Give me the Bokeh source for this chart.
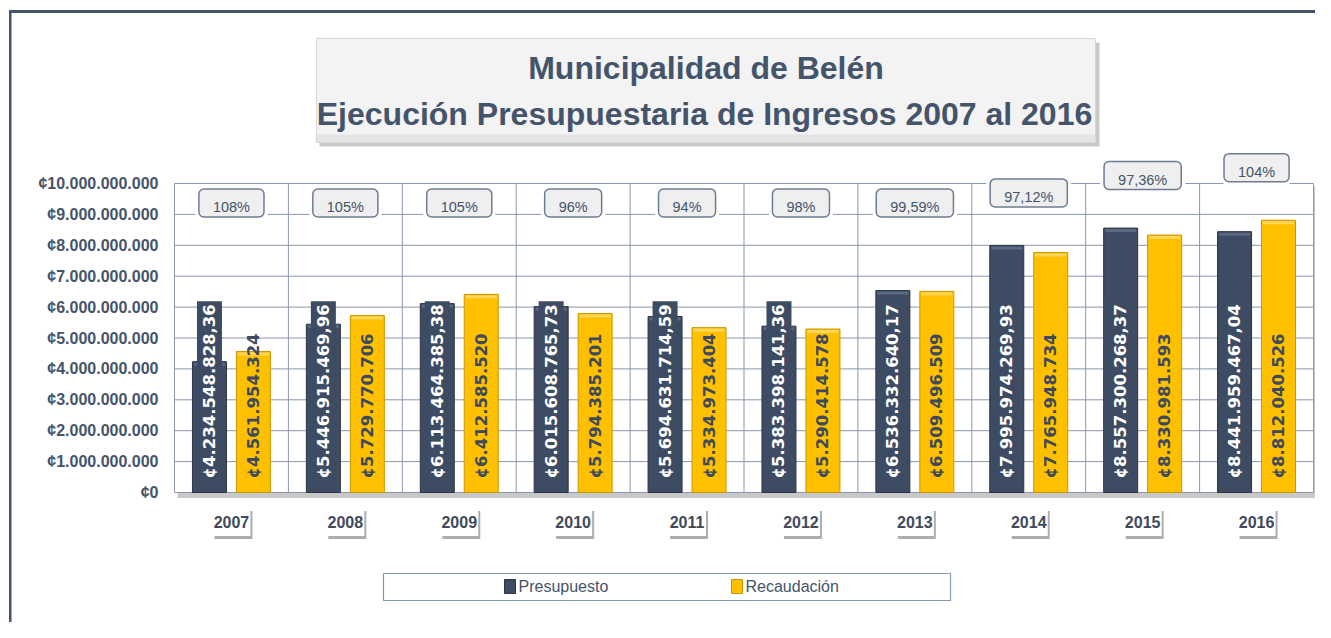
import math
from bokeh.plotting import figure
from bokeh.models import Range1d, FixedTicker, InlineStyleSheet
from bokeh.core.properties import value
from bokeh.embed import file_html
from bokeh.resources import INLINE

# ---------------- data ----------------
years = ["2007", "2008", "2009", "2010", "2011", "2012", "2013", "2014", "2015", "2016"]
presupuesto = [4234548828.36, 5446915469.96, 6113464385.38, 6015608765.73, 5694631714.59,
               5383398141.36, 6536332640.17, 7995974269.93, 8557300268.37, 8441959467.04]
recaudacion = [4561954324, 5729770706, 6412585520, 5794385201, 5334973404,
               5290414578, 6509496509, 7765948734, 8330981593, 8812040526]
porcentajes = ["108%", "105%", "105%", "96%", "94%", "98%", "99,59%", "97,12%", "97,36%", "104%"]
y_ticks = [0, 1000000000, 2000000000, 3000000000, 4000000000, 5000000000,
           6000000000, 7000000000, 8000000000, 9000000000, 10000000000]
y_tick_labels = ["¢0", "¢1.000.000.000", "¢2.000.000.000", "¢3.000.000.000", "¢4.000.000.000",
                 "¢5.000.000.000", "¢6.000.000.000", "¢7.000.000.000", "¢8.000.000.000",
                 "¢9.000.000.000", "¢10.000.000.000"]
series_names = ["Presupuesto", "Recaudación"]
title_lines = ["Municipalidad de Belén", "Ejecución Presupuestaria de Ingresos 2007 al 2016"]

# ---------------- style ----------------
DARK = "#3E4C63"
DARK_EDGE = "#2B3547"
DARK_TOP = "#5A6980"
GOLD = "#FFC000"
GOLD_EDGE = "#C99700"
GOLD_TOP = "#FFD659"
SLATE = "#44546A"
GRID = "#8A97AC"
SANS = "Liberation Sans"


def money(v, dec):
    s = f"{v:,.{dec}f}"
    s = s.replace(",", "X").replace(".", ",").replace("X", ".")
    return "¢" + s


# layout helpers (canvas pixels -> data space)
W, H = 1315, 622
X0_PX, CAT_PX = 174.0, 113.9
Y0_PX, BIL_PX = 492.0, 30.9
FRAME_L, FRAME_R, FRAME_T, FRAME_B = 168, 1315, 28, 612


def X(px):
    return (px - X0_PX) / CAT_PX


def Y(py):
    return (Y0_PX - py) / BIL_PX * 1e9


def DX(px):
    return px / CAT_PX


def DY(px):
    return px / BIL_PX * 1e9


n = len(years)
centers = [i + 0.5 for i in range(n)]
off = 0.193
bw = 0.2985
x_p = [c - off for c in centers]
x_r = [c + off for c in centers]

p = figure(width=W, height=H,
           x_range=Range1d(X(FRAME_L), X(FRAME_R)),
           y_range=Range1d(Y(FRAME_B), Y(FRAME_T)),
           output_backend="svg", toolbar_location=None, x_axis_location=None,
           min_border_left=FRAME_L, min_border_right=W - FRAME_R,
           min_border_top=FRAME_T, min_border_bottom=H - FRAME_B)
p.outline_line_color = None
p.grid.visible = False
p.background_fill_color = "white"
p.border_fill_color = None

# outer frame lines (painted behind the transparent border area)
p.stylesheets = [InlineStyleSheet(css=(
    ":host { background: "
    "linear-gradient(#44546A, #44546A) 9px 10px / 100% 3px no-repeat, "
    "linear-gradient(#44546A, #44546A) 9px 10px / 2.5px 100% no-repeat, white; }"))]

ax = p.yaxis[0]
ax.ticker = FixedTicker(ticks=y_ticks)
ax.major_label_overrides = dict(zip(y_ticks, y_tick_labels))
ax.axis_line_color = None
ax.major_tick_line_color = None
ax.minor_tick_line_color = None
ax.major_tick_in = 0
ax.major_tick_out = 0
ax.major_label_standoff = 10
ax.major_label_text_font = SANS
ax.major_label_text_font_style = "bold"
ax.major_label_text_font_size = "16px"
ax.major_label_text_color = SLATE

# title box
p.quad(left=[X(319)], right=[X(1099)], top=[Y(42)], bottom=[Y(146)], fill_color="#BDBDBD",
       fill_alpha=0.8, line_color=None)
p.quad(left=[X(316)], right=[X(1095)], top=[Y(38)], bottom=[Y(142)], fill_color="#F3F3F3",
       line_color="#D6D6D6")
p.quad(left=[X(316.5)], right=[X(1094.5)], top=[Y(134)], bottom=[Y(141.5)], fill_color="#E4E4E4",
       line_color=None)
p.text(x=[X(705.5), X(704)], y=[Y(67), Y(113)], text=title_lines,
       text_font=value(SANS), text_font_style="bold", text_font_size="32px",
       text_color=SLATE, text_align="center", text_baseline="middle")

# plot-area shadow
p.quad(left=[X(177)], right=[X(1320)], top=[Y(492.5)], bottom=[Y(497.5)], fill_color="#C8C8C8",
       line_color=None)
p.quad(left=[X(1313.5)], right=[X(1320)], top=[Y(186)], bottom=[Y(497.5)], fill_color="#C8C8C8",
       line_color=None)

# grid
p.segment(x0=[0] * len(y_ticks), x1=[n] * len(y_ticks), y0=y_ticks, y1=y_ticks,
          line_color=GRID, line_width=1)
p.segment(x0=list(range(n + 1)), x1=list(range(n + 1)), y0=[0] * (n + 1),
          y1=[y_ticks[-1]] * (n + 1), line_color=GRID, line_width=1)

# bars
p.vbar(x=x_p, top=presupuesto, width=bw, bottom=0, fill_color=DARK, line_color=DARK_EDGE,
       line_width=1)
p.vbar(x=x_r, top=recaudacion, width=bw, bottom=0, fill_color=GOLD, line_color=GOLD_EDGE,
       line_width=1)
# bevel highlight on bar tops
p.vbar(x=x_p, top=[v - DY(1) for v in presupuesto], bottom=[v - DY(4) for v in presupuesto],
       width=bw - DX(3), fill_color=DARK_TOP, line_color=None)
p.vbar(x=x_r, top=[v - DY(1) for v in recaudacion], bottom=[v - DY(4) for v in recaudacion],
       width=bw - DX(3), fill_color=GOLD_TOP, line_color=None)

# bar labels (inside base)
p.text(x=x_p, y=[DY(1)] * n, text=[money(v, 2) for v in presupuesto], angle=math.pi / 2,
       text_align="left", text_baseline="middle", text_color="white",
       text_font=value("DejaVu Sans"), text_font_style="bold", text_font_size="16.5px",
       background_fill_color=DARK, padding=dict(left=13, right=3, top=3, bottom=3))
p.text(x=x_r, y=[DY(14)] * n, text=[money(v, 0) for v in recaudacion], angle=math.pi / 2,
       text_align="left", text_baseline="middle", text_color="#3D4A5E",
       text_font=value("DejaVu Sans"), text_font_style="bold", text_font_size="16.5px")

# percentage labels
pct_y = [max(9.37e9, max(a, b) + 1.7e9) for a, b in zip(presupuesto, recaudacion)]
p.text(x=centers, y=pct_y, text=porcentajes, text_alpha=0, text_align="center",
       text_baseline="middle", text_font=value(SANS), text_font_size="14.5px",
       background_fill_color="white", border_radius=9,
       padding=dict(left=18, right=18, top=14, bottom=6))
p.text(x=centers, y=pct_y, text=porcentajes, text_align="center", text_baseline="middle",
       text_font=value(SANS), text_font_size="14.5px", text_color=SLATE,
       background_fill_color="#EFEFEF", border_line_color="#6E7C92", border_line_width=1.5,
       border_radius=5, padding=dict(left=14, right=14, top=10, bottom=2))

# category labels
cat_y = Y(521.5)
p.rect(x=[c + DX(2) for c in centers], y=[cat_y - DY(3)] * n, width=38, height=28,
       width_units="screen", height_units="screen", fill_color="#8C8C8C", fill_alpha=0.7,
       line_color=None)
p.rect(x=centers, y=[cat_y] * n, width=38, height=28, width_units="screen",
       height_units="screen", fill_color="white", line_color=None)
p.text(x=centers, y=[cat_y] * n, text=years, text_align="center", text_baseline="middle",
       text_font=value(SANS), text_font_style="bold", text_font_size="16px",
       text_color="#3F4A5C")

# legend
p.quad(left=[X(383)], right=[X(950)], top=[Y(573)], bottom=[Y(600)], fill_color="white",
       line_color="#8497B0", line_width=1.2)
p.quad(left=[X(504), X(731)], right=[X(515), X(742)], top=[Y(579)] * 2, bottom=[Y(593)] * 2,
       fill_color=[DARK, GOLD], line_color=[DARK_EDGE, GOLD_EDGE])
p.text(x=[X(518), X(745)], y=[Y(586)] * 2, text=series_names, text_align="left",
       text_baseline="middle", text_font=value(SANS), text_font_size="16px",
       text_color=SLATE)

open("out.html", "w").write(file_html(p, INLINE))
